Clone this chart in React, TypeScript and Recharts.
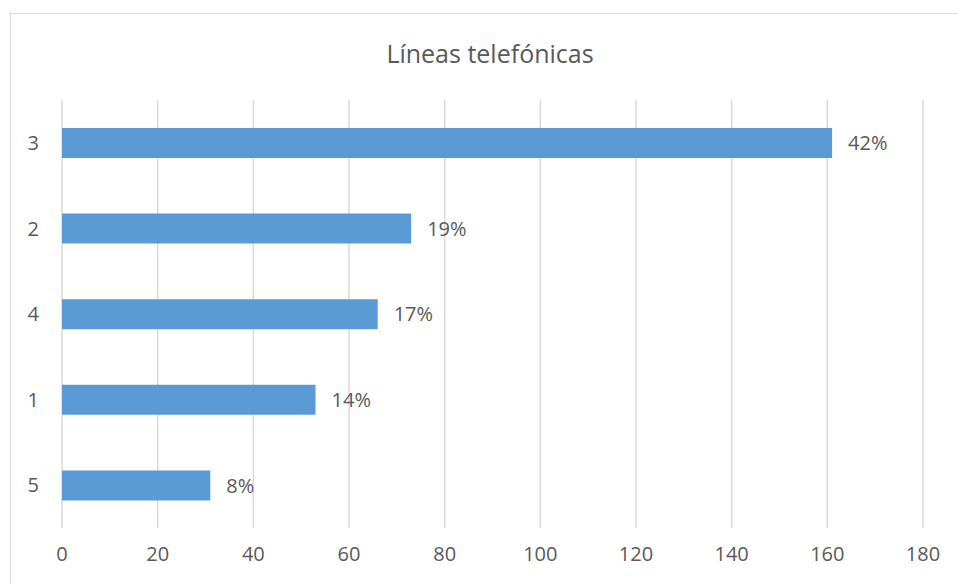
import { Bar, BarChart, CartesianGrid, LabelList, XAxis, YAxis } from "recharts";

const categories = ["3", "2", "4", "1", "5"];
const values = [161, 73, 66, 53, 31];
const percentLabels = ["42%", "19%", "17%", "14%", "8%"];
const xTicks = [0, 20, 40, 60, 80, 100, 120, 140, 160, 180];

const data = categories.map((name, i) => ({
  name,
  value: values[i],
  label: percentLabels[i],
}));

const font = "'Open Sans', 'Noto Sans', sans-serif";
const textColor = "#595959";

export default function App() {
  return (
    <div style={{ position: "absolute", left: 0, top: 0, width: 958, height: 584, background: "#fff", overflow: "hidden", fontFamily: font }}>
      {/* chart area frame, right/bottom edges fall outside the picture */}
      <div
        style={{
          position: "absolute",
          left: 10,
          top: 13,
          width: 1000,
          height: 700,
          border: "1.5px solid #d9d9d9",
          boxSizing: "border-box",
        }}
      />
      <div
        style={{
          position: "absolute",
          left: 290,
          width: 400,
          top: 35,
          textAlign: "center",
          fontSize: 25,
          color: textColor,
          lineHeight: "36px",
        }}
      >
        Líneas telefónicas
      </div>
      <div style={{ position: "absolute", left: 0, top: 0 }}>
        <BarChart
          width={958}
          height={584}
          data={data}
          layout="vertical"
          barSize={30}
          margin={{ top: 100, right: 35, left: 0, bottom: 0 }}
        >
          <CartesianGrid horizontal={false} stroke="#d9d9d9" strokeWidth={1.5} />
          <XAxis
            type="number"
            domain={[0, 180]}
            ticks={xTicks}
            axisLine={false}
            tickLine={false}
            height={56}
            tickMargin={13}
            tick={{ fill: textColor, fontSize: 20, fontFamily: font }}
          />
          <YAxis
            type="category"
            dataKey="name"
            width={62}
            axisLine={false}
            tickLine={false}
            tickMargin={17}
            tick={{ fill: textColor, fontSize: 20, fontFamily: font }}
          />
          <Bar dataKey="value" fill="#5B9BD5" isAnimationActive={false}>
            <LabelList
              dataKey="label"
              position="right"
              offset={16}
              fill={textColor}
              fontSize={20}
              fontFamily={font}
            />
          </Bar>
        </BarChart>
      </div>
    </div>
  );
}
